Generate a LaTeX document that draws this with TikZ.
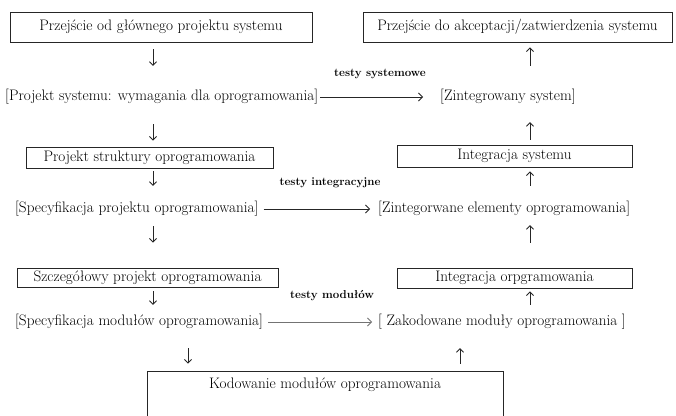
\documentclass[tikz,border=0pt]{standalone}
\usepackage{fontspec}
\usetikzlibrary{arrows.meta}
\begin{document}
\begin{tikzpicture}[x=1pt,y=-1pt,
  every node/.style={font=\fontsize{15.2}{17}\selectfont},
  boxnode/.style={draw=black!85, line width=0.9pt, inner sep=0pt, text height=10pt, text depth=3pt},
  txtnode/.style={inner sep=0pt, text height=11pt, text depth=4pt, anchor=west},
  lbl/.style={font=\fontsize{11.5}{13}\selectfont\bfseries, inner sep=0pt},
  arr/.style={line width=0.8pt, draw=black!85, -{Straight Barb[length=3.5pt,width=7pt]}},
  harr/.style={line width=0.8pt, draw=black!85, -{Straight Barb[length=4pt,width=8pt]}}
]
\useasboundingbox (0,0) rectangle (676,415);
\clip (0,0) rectangle (676,415);
\fill[white] (0,0) rectangle (676,415);

\coordinate (xL) at (153,0);
\coordinate (xR) at (530,0);
\coordinate (xLb) at (188,0);
\coordinate (xRb) at (460,0);

% boxes
\node[boxnode, minimum width=302pt, minimum height=30pt] (b1) at (161,27) {Przejście od głównego projektu systemu};
\node[boxnode, minimum width=309pt, minimum height=30pt] (b2) at (517.5,27) {Przejście do akceptacji/zatwierdzenia systemu};
\node[boxnode, minimum width=247pt, minimum height=21pt] (b3) at (149.5,157.5) {Projekt struktury oprogramowania};
\node[boxnode, minimum width=235pt, minimum height=22pt] (b4) at (514.5,156) {Integracja systemu};
\node[boxnode, minimum width=261pt, minimum height=19pt] (b5) at (147.5,277.5) {Szczegółowy projekt oprogramowania};
\node[boxnode, minimum width=235pt, minimum height=20pt] (b6) at (514.5,278) {Integracja orpgramowania};
\node[boxnode, minimum width=356pt, minimum height=60pt,
  label={[anchor=north, inner sep=0pt, text height=10pt, text depth=3pt, yshift=-8pt]north:Kodowanie modułów oprogramowania}] (b7) at (325,401) {};

% bracket texts
\node[txtnode] (t1) at (5,97) {[Projekt systemu: wymagania dla oprogramowania]};
\node[txtnode] (t2) at (440,97) {[Zintegrowany system]};
\node[txtnode] (t3) at (15,209) {[Specyfikacja projektu oprogramowania]};
\node[txtnode] (t4) at (378,209) {[Zintegorwane elementy oprogramowania]};
\node[txtnode] (t5) at (15,322) {[Specyfikacja modułów oprogramowania]};
\node[txtnode] (t6) at (378,322) {[ Zakodowane moduły oprogramowania ]};

% labels
\node[lbl] (l1) at (380,74) {testy systemowe};
\node[lbl] (l2) at (330,183) {testy integracyjne};
\node[lbl] (l3) at (332,296) {testy modułów};

% horizontal arrows
\draw[harr, shorten <=2pt, shorten >=17pt] (t1.east) -- (t2.west);
\draw[harr, shorten <=5pt, shorten >=8pt] (t3.east) -- (t4.west);
\draw[harr, draw=black!55, shorten <=5pt, shorten >=6pt] (t5.east) -- (t6.west);

% left column (down)
\draw[arr, shorten <=7pt, shorten >=23.5pt] (b1.south -| xL) -- (t1.north -| xL);
\draw[arr, shorten <=19.5pt, shorten >=6pt] (t1.south -| xL) -- (b3.north -| xL);
\draw[arr, shorten <=3pt, shorten >=15.5pt] (b3.south -| xL) -- (t3.north -| xL);
\draw[arr, shorten <=9.5pt, shorten >=25pt] (t3.south -| xL) -- (b5.north -| xL);
\draw[arr, shorten <=4pt, shorten >=9.5pt] (b5.south -| xL) -- (t5.north -| xL);
\draw[arr, shorten <=18.5pt, shorten >=7pt] (t5.south -| xLb) -- (b7.north -| xLb);

% right column (up)
\draw[arr, shorten <=7pt, shorten >=18.5pt] (b7.north -| xRb) -- (t6.south -| xRb);
\draw[arr, shorten <=9.5pt, shorten >=3pt] (t6.north -| xR) -- (b6.south -| xR);
\draw[arr, shorten <=25pt, shorten >=8.5pt] (b6.north -| xR) -- (t4.south -| xR);
\draw[arr, shorten <=15.5pt, shorten >=4pt] (t4.north -| xR) -- (b4.south -| xR);
\draw[arr, shorten <=5pt, shorten >=17.5pt] (b4.north -| xR) -- (t2.south -| xR);
\draw[arr, shorten <=23.5pt, shorten >=5pt] (t2.north -| xR) -- (b2.south -| xR);
\end{tikzpicture}
\end{document}
